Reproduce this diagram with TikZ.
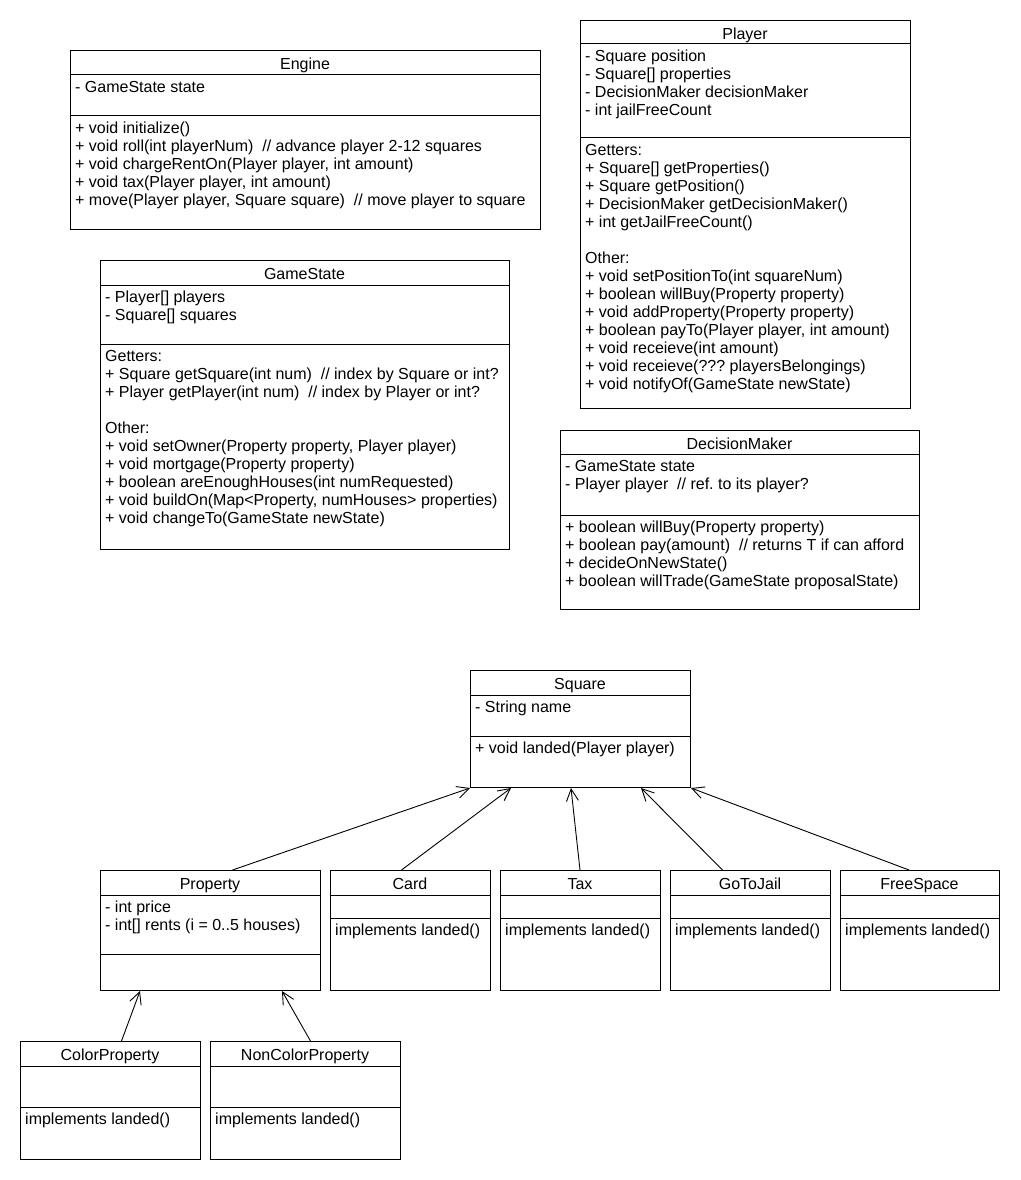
\documentclass[tikz,border=0pt]{standalone}
\usepackage{fontspec}
\setmainfont{Liberation Sans}
\usetikzlibrary{arrows.meta}
\frenchspacing

\tikzset{
  umlbox/.style={draw, line width=1pt, inner sep=0pt, anchor=north west},
  ttl/.style={anchor=base, inner sep=0pt, font=\fontsize{16}{18}\selectfont},
  body/.style={anchor=north west, inner sep=0pt, align=left, font=\fontsize{16}{18}\selectfont},
  sep/.style={line width=1pt},
  inherit/.style={line width=0.9pt, -{Straight Barb[length=12pt,width=12pt,line width=0.9pt]}},
}

% class box: name, left, top, right, bottom, title line, divider, title
\newcommand\umlclass[8]{%
  \node[umlbox, minimum width={(#4-#2)*1pt}, minimum height={(#5-#3)*1pt}] (#1) at (#2,#3) {};
  \draw[sep] (#2,#6) -- (#4,#6);
  \draw[sep] (#2,#7) -- (#4,#7);
  \node[ttl] (#1-title) at ({(#2+#4)/2},{#3+19.5}) {#8};
}
\newcommand\fl{\rule{0pt}{12pt}}

\begin{document}
\begin{tikzpicture}[x=1pt,y=-1pt]
\useasboundingbox (0,0) rectangle (1020,1180);

% ---- Engine ----
\umlclass{engine}{70}{50}{540}{229}{75}{116}{Engine}
\node[body] (engine-attr) at (75,80) {\fl- GameState state};
\node[body] (engine-ops) at (75,121) {\fl+ void initialize()\\
+ void roll(int playerNum)\ \ // advance player 2-12 squares\\
+ void chargeRentOn(Player player, int amount)\\
+ void tax(Player player, int amount)\\
+ move(Player player, Square square)\ \ // move player to square};

% ---- Player ----
\umlclass{player}{580}{20}{910}{408}{44}{138}{Player}
\node[body] (player-attr) at (585,49) {\fl- Square position\\
- Square[] properties\\
- DecisionMaker decisionMaker\\
- int jailFreeCount};
\node[body] (player-ops) at (585,143) {\fl Getters:\\
+ Square[] getProperties()\\
+ Square getPosition()\\
+ DecisionMaker getDecisionMaker()\\
+ int getJailFreeCount()\\[18pt]
Other:\\
+ void setPositionTo(int squareNum)\\
+ boolean willBuy(Property property)\\
+ void addProperty(Property property)\\
+ boolean payTo(Player player, int amount)\\
+ void receieve(int amount)\\
+ void receieve(??? playersBelongings)\\
+ void notifyOf(GameState newState)};

% ---- GameState ----
\umlclass{gamestate}{100}{260}{509}{549}{285}{344}{GameState}
\node[body] (gamestate-attr) at (105,290) {\fl- Player[] players\\
- Square[] squares};
\node[body] (gamestate-ops) at (105,349) {\fl Getters:\\
+ Square getSquare(int num)\ \ // index by Square or int?\\
+ Player getPlayer(int num)\ \ // index by Player or int?\\[18pt]
Other:\\
+ void setOwner(Property property, Player player)\\
+ void mortgage(Property property)\\
+ boolean areEnoughHouses(int numRequested)\\
+ void buildOn(Map<Property, numHouses> properties)\\
+ void changeTo(GameState newState)};

% ---- DecisionMaker ----
\umlclass{decision}{560}{430}{919}{609}{454}{515}{DecisionMaker}
\node[body] (decision-attr) at (565,459) {\fl- GameState state\\
- Player player\ \ // ref. to its player?};
\node[body] (decision-ops) at (565,520) {\fl+ boolean willBuy(Property property)\\
+ boolean pay(amount)\ \ // returns T if can afford\\
+ decideOnNewState()\\
+ boolean willTrade(GameState proposalState)};

% ---- Square hierarchy ----
\umlclass{square}{470}{670}{690}{787}{695}{736}{Square}
\node[body] (square-attr) at (475,700) {\fl- String name};
\node[body] (square-ops) at (475,741) {\fl+ void landed(Player player)};

\umlclass{property}{100}{870}{320}{990}{895}{954}{Property}
\node[body] (property-attr) at (105,900) {\fl- int price\\
- int[] rents (i = 0..5 houses)};

\umlclass{card}{330}{870}{490}{990}{895}{918}{Card}
\node[body] (card-ops) at (335,923) {\fl implements landed()};

\umlclass{tax}{500}{870}{660}{990}{895}{918}{Tax}
\node[body] (tax-ops) at (505,923) {\fl implements landed()};

\umlclass{gotojail}{670}{870}{830}{990}{895}{918}{GoToJail}
\node[body] (gotojail-ops) at (675,923) {\fl implements landed()};

\umlclass{freespace}{840}{870}{999}{990}{895}{918}{FreeSpace}
\node[body] (freespace-ops) at (845,923) {\fl implements landed()};

\umlclass{colorprop}{20}{1041}{200}{1159}{1066}{1107}{ColorProperty}
\node[body] (colorprop-ops) at (25,1112) {\fl implements landed()};

\umlclass{noncolorprop}{210}{1041}{400}{1159}{1066}{1107}{NonColorProperty}
\node[body] (noncolorprop-ops) at (215,1112) {\fl implements landed()};

% ---- generalisation arrows ----
\draw[inherit] ([xshift=22pt]property.north) -- (square.south west);
\draw[inherit] ([xshift=-9pt]card.north) -- ([xshift=41pt]square.south west);
\draw[inherit] ([xshift=-0.5pt]tax.north) -- ([xshift=101pt]square.south west);
\draw[inherit] ([xshift=-28pt]gotojail.north) -- ([xshift=171pt]square.south west);
\draw[inherit] ([xshift=-11pt]freespace.north) -- (square.south east);

\draw[inherit] ([xshift=11pt]colorprop.north) -- ([xshift=40pt]property.south west);
\draw[inherit] ([xshift=5pt]noncolorprop.north) -- ([xshift=182pt]property.south west);
\end{tikzpicture}
\end{document}
